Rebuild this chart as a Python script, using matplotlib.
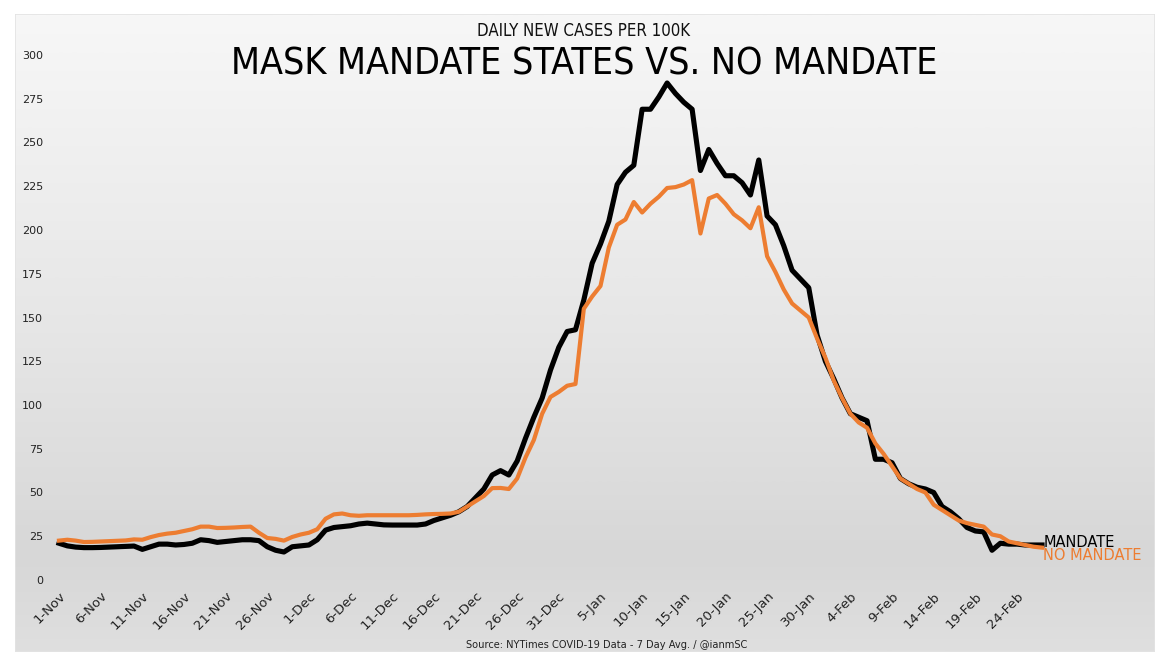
import numpy as np
import matplotlib
matplotlib.use("Agg")
import matplotlib.pyplot as plt
from matplotlib import font_manager
from matplotlib.colors import LinearSegmentedColormap
from matplotlib.patches import Rectangle

# Daily new cases per 100K (7-day average), one value per day from 1-Nov
mandate = [
    21, 19.5, 18.8, 18.5, 18.5, 18.6, 18.8, 19, 19.2, 19.4,
    17.5, 19, 20.5, 20.5, 20, 20.3, 21, 23, 22.5, 21.5,
    22, 22.5, 23, 23, 22.5, 19, 17, 16, 19, 19.5,
    20, 23, 28.5, 30, 30.5, 31, 32, 32.5, 32, 31.5,
    31.4, 31.4, 31.4, 31.4, 32, 34, 35.5, 37, 39, 42,
    47, 52, 60, 62.5, 60, 68, 81, 93, 104, 120,
    133, 142, 143, 160, 181, 192, 205, 226, 233, 237,
    269, 269, 276, 284, 278, 273, 269, 234, 246, 238,
    231, 231, 227, 220, 240, 208, 203, 191, 177, 172,
    167, 140, 125, 115, 104, 95, 93, 91, 69, 69,
    67, 58, 55, 53, 52, 50, 42, 39, 35, 30,
    28, 27.5, 17, 21, 20.5, 20.5, 20, 20, 20,
]
no_mandate = [
    22.5, 23, 22.5, 21.7, 21.8, 22, 22.2, 22.4, 22.6, 23.2,
    23, 24.5, 25.7, 26.5, 27, 28, 29, 30.5, 30.5, 29.7,
    29.8, 30, 30.3, 30.5, 27, 24, 23.5, 22.5, 24.6, 26,
    27, 29, 35, 37.5, 38, 37, 36.7, 37, 37, 37,
    37, 37, 37, 37.2, 37.5, 37.7, 37.8, 38, 39, 42,
    45, 48, 52.5, 52.6, 52, 58, 70, 80, 95, 104.6,
    107.5, 111, 112, 155, 162, 168, 190, 203, 206, 216,
    210, 215, 219, 224, 224.5, 226, 228.5, 198, 218, 220,
    215, 209, 205.5, 201, 213, 185, 176, 166, 158, 154,
    150, 138, 127, 114, 104, 95, 90, 87, 78, 72,
    65, 58, 55, 52, 50, 43, 40, 37, 34, 32.5,
    31.5, 30.5, 26, 25, 22, 21, 20, 19, 18.5,
]
tick_labels = [
    "1-Nov", "6-Nov", "11-Nov", "16-Nov", "21-Nov", "26-Nov",
    "1-Dec", "6-Dec", "11-Dec", "16-Dec", "21-Dec", "26-Dec", "31-Dec",
    "5-Jan", "10-Jan", "15-Jan", "20-Jan", "25-Jan", "30-Jan",
    "4-Feb", "9-Feb", "14-Feb", "19-Feb", "24-Feb",
]
y_ticks = [0, 25, 50, 75, 100, 125, 150, 175, 200, 225, 250, 275, 300]

BLACK = "#000000"
ORANGE = "#ED7D31"


def narrow_font():
    """Pick a condensed face if one is installed, else a plain sans."""
    for f in font_manager.fontManager.ttflist:
        name = f.name.lower()
        fname = f.fname.lower()
        if "condensed" in fname and "dejavu" in fname and "bold" not in fname \
                and "oblique" not in fname:
            return font_manager.FontProperties(fname=f.fname)
    for f in font_manager.fontManager.ttflist:
        if f.name == "Liberation Sans Narrow" and f.weight in (400, "normal") \
                and f.style == "normal":
            return font_manager.FontProperties(fname=f.fname)
    return font_manager.FontProperties(family="Liberation Sans")


W, H = 1163, 662
fig = plt.figure(figsize=(W / 100, H / 100), dpi=100)
fig.patch.set_facecolor("white")

# Panel background with a soft vertical gradient
x0, x1, y0, y1 = 15, 1155, 14, 652
bg = fig.add_axes([x0 / W, 1 - y1 / H, (x1 - x0) / W, (y1 - y0) / H])
grad = np.linspace(0, 1, 512).reshape(-1, 1)
cmap = LinearSegmentedColormap.from_list(
    "panel", [(0, "#f7f7f7"), (0.5, "#e6e6e6"), (0.85, "#d7d7d7"), (1, "#dfdfdf")]
)
bg.imshow(grad, aspect="auto", cmap=cmap, extent=[0, 1, 0, 1], origin="upper")
bg.add_patch(Rectangle((0, 0), 1, 1, transform=bg.transAxes, fill=False,
                       edgecolor="#e3e3e3", linewidth=1.2))
bg.set_axis_off()

# Plot area
px_per_day = 8.33
left_px, right_px, bottom_px, top_px = 50, 1050, 580, 55
ax = fig.add_axes([left_px / W, 1 - bottom_px / H,
                   (right_px - left_px) / W, (bottom_px - top_px) / H])
ax.set_facecolor("none")
days = np.arange(len(mandate))
ax.set_xlim(-(59 - left_px) / px_per_day, (len(mandate) - 1) + (right_px - 1042) / px_per_day)
ax.set_ylim(0, 300)

ax.plot(days, mandate, color=BLACK, linewidth=3.7, clip_on=False)
ax.plot(days, no_mandate, color=ORANGE, linewidth=3.0, clip_on=False)

for s in ax.spines.values():
    s.set_visible(False)
ax.set_yticks(y_ticks)
ax.set_yticklabels([str(v) for v in y_ticks], fontsize=8, color="#222222")
ax.set_xticks(np.arange(0, len(tick_labels) * 5, 5))
ax.set_xticklabels(tick_labels, rotation=45, ha="right", rotation_mode="anchor",
                   fontsize=9.5, color="#222222")
ax.tick_params(axis="both", length=0)
ax.tick_params(axis="y", pad=5)
ax.tick_params(axis="x", pad=7)

# End-of-line series labels
last = len(mandate) - 1
ax.annotate("MANDATE", xy=(last, mandate[-1]), xytext=(1, 1.5), textcoords="offset points",
            ha="left", va="center", fontsize=10.5, color=BLACK, annotation_clip=False)
ax.annotate("NO MANDATE", xy=(last, no_mandate[-1]), xytext=(1, -6), textcoords="offset points",
            ha="left", va="center", fontsize=10.5, color=ORANGE, annotation_clip=False)

# Titles and source note
nf = narrow_font()
sub = fig.text(584 / W, 1 - 31 / H, "DAILY NEW CASES PER 100K", ha="center", va="center",
               fontproperties=nf, fontsize=11, color="#111111")
title = fig.text(584 / W, 1 - 64 / H, "MASK MANDATE STATES VS. NO MANDATE",
                 ha="center", va="center", fontproperties=nf, fontsize=27, color="#000000")
fig.text(607 / W, 1 - 645 / H, "Source: NYTimes COVID-19 Data - 7 Day Avg. / @ianmSC",
         ha="center", va="center", fontsize=7.1, color="#222222")

# Fit the heading widths to the panel design
renderer = fig.canvas.get_renderer()
for txt, target in ((title, 708), (sub, 212)):
    w = txt.get_window_extent(renderer).width
    txt.set_fontsize(txt.get_fontsize() * target / w)

fig.savefig("out.png", dpi=100, facecolor=fig.get_facecolor())
